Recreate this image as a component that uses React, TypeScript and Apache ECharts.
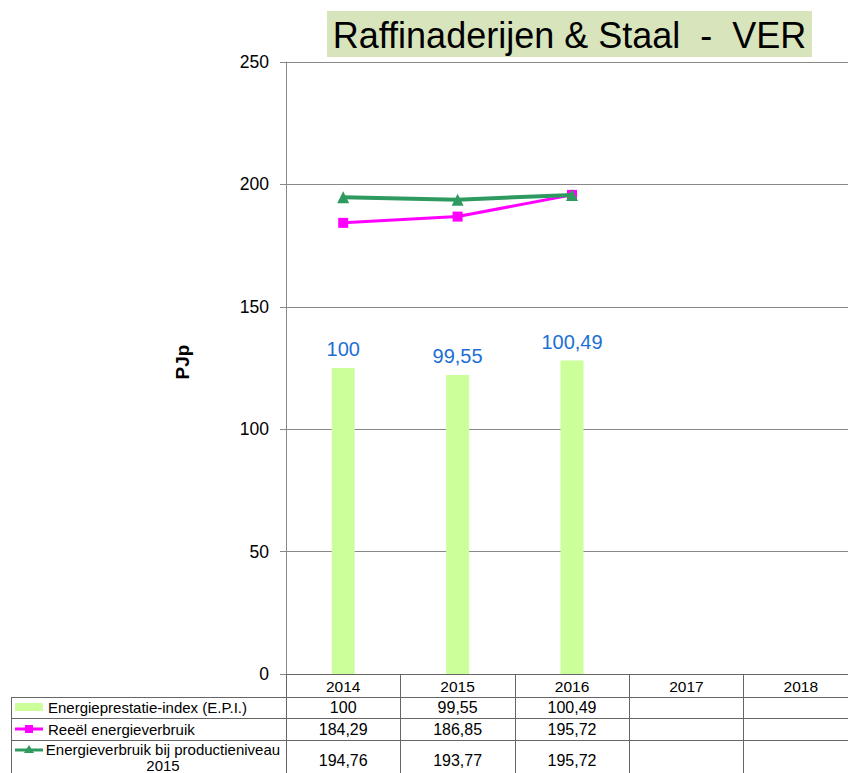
import React, { useEffect, useRef } from 'react';
import * as echarts from 'echarts';

const title = 'Raffinaderijen & Staal  -  VER';
const yAxisName = 'PJp';
const years = ['2014', '2015', '2016', '2017', '2018'];
const epiName = 'Energieprestatie-index (E.P.I.)';
const reeelName = 'Reeël energieverbruik';
const prodName = 'Energieverbruik bij productieniveau\n2015';
const epi: (number | null)[] = [100, 99.55, 100.49, null, null];
const reeel: (number | null)[] = [184.29, 186.85, 195.72, null, null];
const productie: (number | null)[] = [194.76, 193.77, 195.72, null, null];

const FONT = 'Liberation Sans, Arial, sans-serif';
const GRID_LEFT = 286;
const GRID_TOP = 62;
const GRID_W = 572;
const GRID_H = 612;
const CAT_W = GRID_W / years.length;
const TABLE_LINE = '#666666';
const AXIS_GREY = '#888888';

const fmt = (v: number | null | undefined) =>
  v == null ? '' : String(v).replace('.', ',');

export default function App() {
  const ref = useRef<HTMLDivElement>(null);
  useEffect(() => {
    const chart = echarts.init(ref.current!, null, { renderer: 'svg' });

    const rowCenters = [707, 729.5, 760];
    const rows = [epi, reeel, productie];
    const graphic: any[] = [];

    graphic.push({
      type: 'rect',
      shape: { x: 327, y: 11, width: 485, height: 46 },
      style: { fill: '#d8e4bc' },
      z: 1,
    });
    graphic.push({
      type: 'text',
      x: 569.5,
      y: 35,
      style: {
        text: title,
        font: `36px ${FONT}`,
        fill: '#000',
        align: 'center',
        verticalAlign: 'middle',
      },
      z: 2,
    });
    graphic.push({
      type: 'text',
      x: 182,
      y: 362,
      rotation: Math.PI / 2,
      style: {
        text: yAxisName,
        font: `bold 19px ${FONT}`,
        fill: '#000',
        align: 'center',
        verticalAlign: 'middle',
      },
    });
    [697.5, 718.5, 740.5].forEach((y) => {
      graphic.push({
        type: 'line',
        shape: { x1: 11, y1: y, x2: 860, y2: y },
        style: { stroke: TABLE_LINE, lineWidth: 1 },
      });
    });
    graphic.push({
      type: 'line',
      shape: { x1: 11.5, y1: 697.5, x2: 11.5, y2: 773 },
      style: { stroke: TABLE_LINE, lineWidth: 1 },
    });
    graphic.push({
      type: 'rect',
      shape: { x: 15, y: 703, width: 28, height: 8 },
      style: { fill: '#ccff99' },
    });
    graphic.push({
      type: 'line',
      shape: { x1: 15, y1: 729, x2: 43, y2: 729 },
      style: { stroke: '#ff00ff', lineWidth: 3 },
    });
    graphic.push({
      type: 'rect',
      shape: { x: 25, y: 725, width: 8, height: 8 },
      style: { fill: '#ff00ff' },
    });
    graphic.push({
      type: 'line',
      shape: { x1: 15, y1: 750, x2: 43, y2: 750 },
      style: { stroke: '#2f9a5f', lineWidth: 3 },
    });
    graphic.push({
      type: 'polygon',
      shape: { points: [[29, 745], [34, 753], [24, 753]] },
      style: { fill: '#2f9a5f' },
    });
    graphic.push({
      type: 'text',
      x: 48,
      y: rowCenters[0],
      style: { text: epiName, font: `15px ${FONT}`, fill: '#000', align: 'left', verticalAlign: 'middle' },
    });
    graphic.push({
      type: 'text',
      x: 48,
      y: rowCenters[1],
      style: { text: reeelName, font: `15px ${FONT}`, fill: '#000', align: 'left', verticalAlign: 'middle' },
    });
    graphic.push({
      type: 'text',
      x: 163,
      y: 757,
      style: {
        text: prodName,
        font: `15px ${FONT}`,
        lineHeight: 16,
        fill: '#000',
        align: 'center',
        verticalAlign: 'middle',
      },
    });
    rows.forEach((row, r) => {
      row.forEach((v, i) => {
        if (v == null) return;
        graphic.push({
          type: 'text',
          x: GRID_LEFT + CAT_W * (i + 0.5),
          y: rowCenters[r],
          style: {
            text: fmt(v),
            font: `16px ${FONT}`,
            fill: '#000',
            align: 'center',
            verticalAlign: 'middle',
          },
        });
      });
    });

    chart.setOption({
      animation: false,
      backgroundColor: '#ffffff',
      textStyle: { fontFamily: FONT },
      grid: {
        left: GRID_LEFT,
        top: GRID_TOP,
        width: GRID_W,
        height: GRID_H,
        containLabel: false,
      },
      xAxis: {
        type: 'category',
        data: years,
        boundaryGap: true,
        axisLine: { show: true, lineStyle: { color: TABLE_LINE, width: 1 } },
        axisTick: {
          show: true,
          interval: 0,
          length: 100,
          lineStyle: { color: TABLE_LINE, width: 1 },
        },
        axisLabel: {
          interval: 0,
          margin: 4,
          fontSize: 15.5,
          color: '#000',
          fontFamily: FONT,
        },
        splitLine: { show: false },
      },
      yAxis: [
        {
          type: 'value',
          min: 0,
          max: 250,
          interval: 50,
          axisLine: { show: true, lineStyle: { color: AXIS_GREY, width: 1 } },
          axisTick: { show: true, length: 6, lineStyle: { color: AXIS_GREY } },
          axisLabel: { fontSize: 17.5, color: '#000', margin: 17, fontFamily: FONT },
          splitLine: { show: true, lineStyle: { color: AXIS_GREY, width: 1 } },
        },
        {
          type: 'value',
          min: 80,
          max: 120,
          interval: 10,
          show: false,
          splitLine: { show: false },
        },
      ],
      series: [
        {
          name: epiName,
          type: 'bar',
          yAxisIndex: 1,
          data: epi,
          barWidth: 23,
          itemStyle: { color: '#ccff99' },
          label: {
            show: true,
            position: 'top',
            distance: 9,
            fontSize: 20,
            color: '#1c6fd4',
            fontFamily: FONT,
            formatter: (p: any) => fmt(p.value),
          },
          z: 2,
        },
        {
          name: reeelName,
          type: 'line',
          data: reeel,
          symbol: 'rect',
          symbolSize: 10,
          lineStyle: { color: '#ff00ff', width: 3 },
          itemStyle: { color: '#ff00ff' },
          z: 3,
        },
        {
          name: prodName,
          type: 'line',
          data: productie,
          symbol: 'triangle',
          symbolSize: 12,
          lineStyle: { color: '#2f9a5f', width: 4 },
          itemStyle: { color: '#2f9a5f' },
          z: 4,
        },
      ],
      graphic,
    });
    return () => chart.dispose();
  }, []);
  return (
    <div
      style={{ position: 'fixed', left: 0, top: 0, width: 848, height: 773, overflow: 'hidden', background: '#fff' }}
    >
      <div ref={ref} style={{ width: 860, height: 773 }} />
    </div>
  );
}
